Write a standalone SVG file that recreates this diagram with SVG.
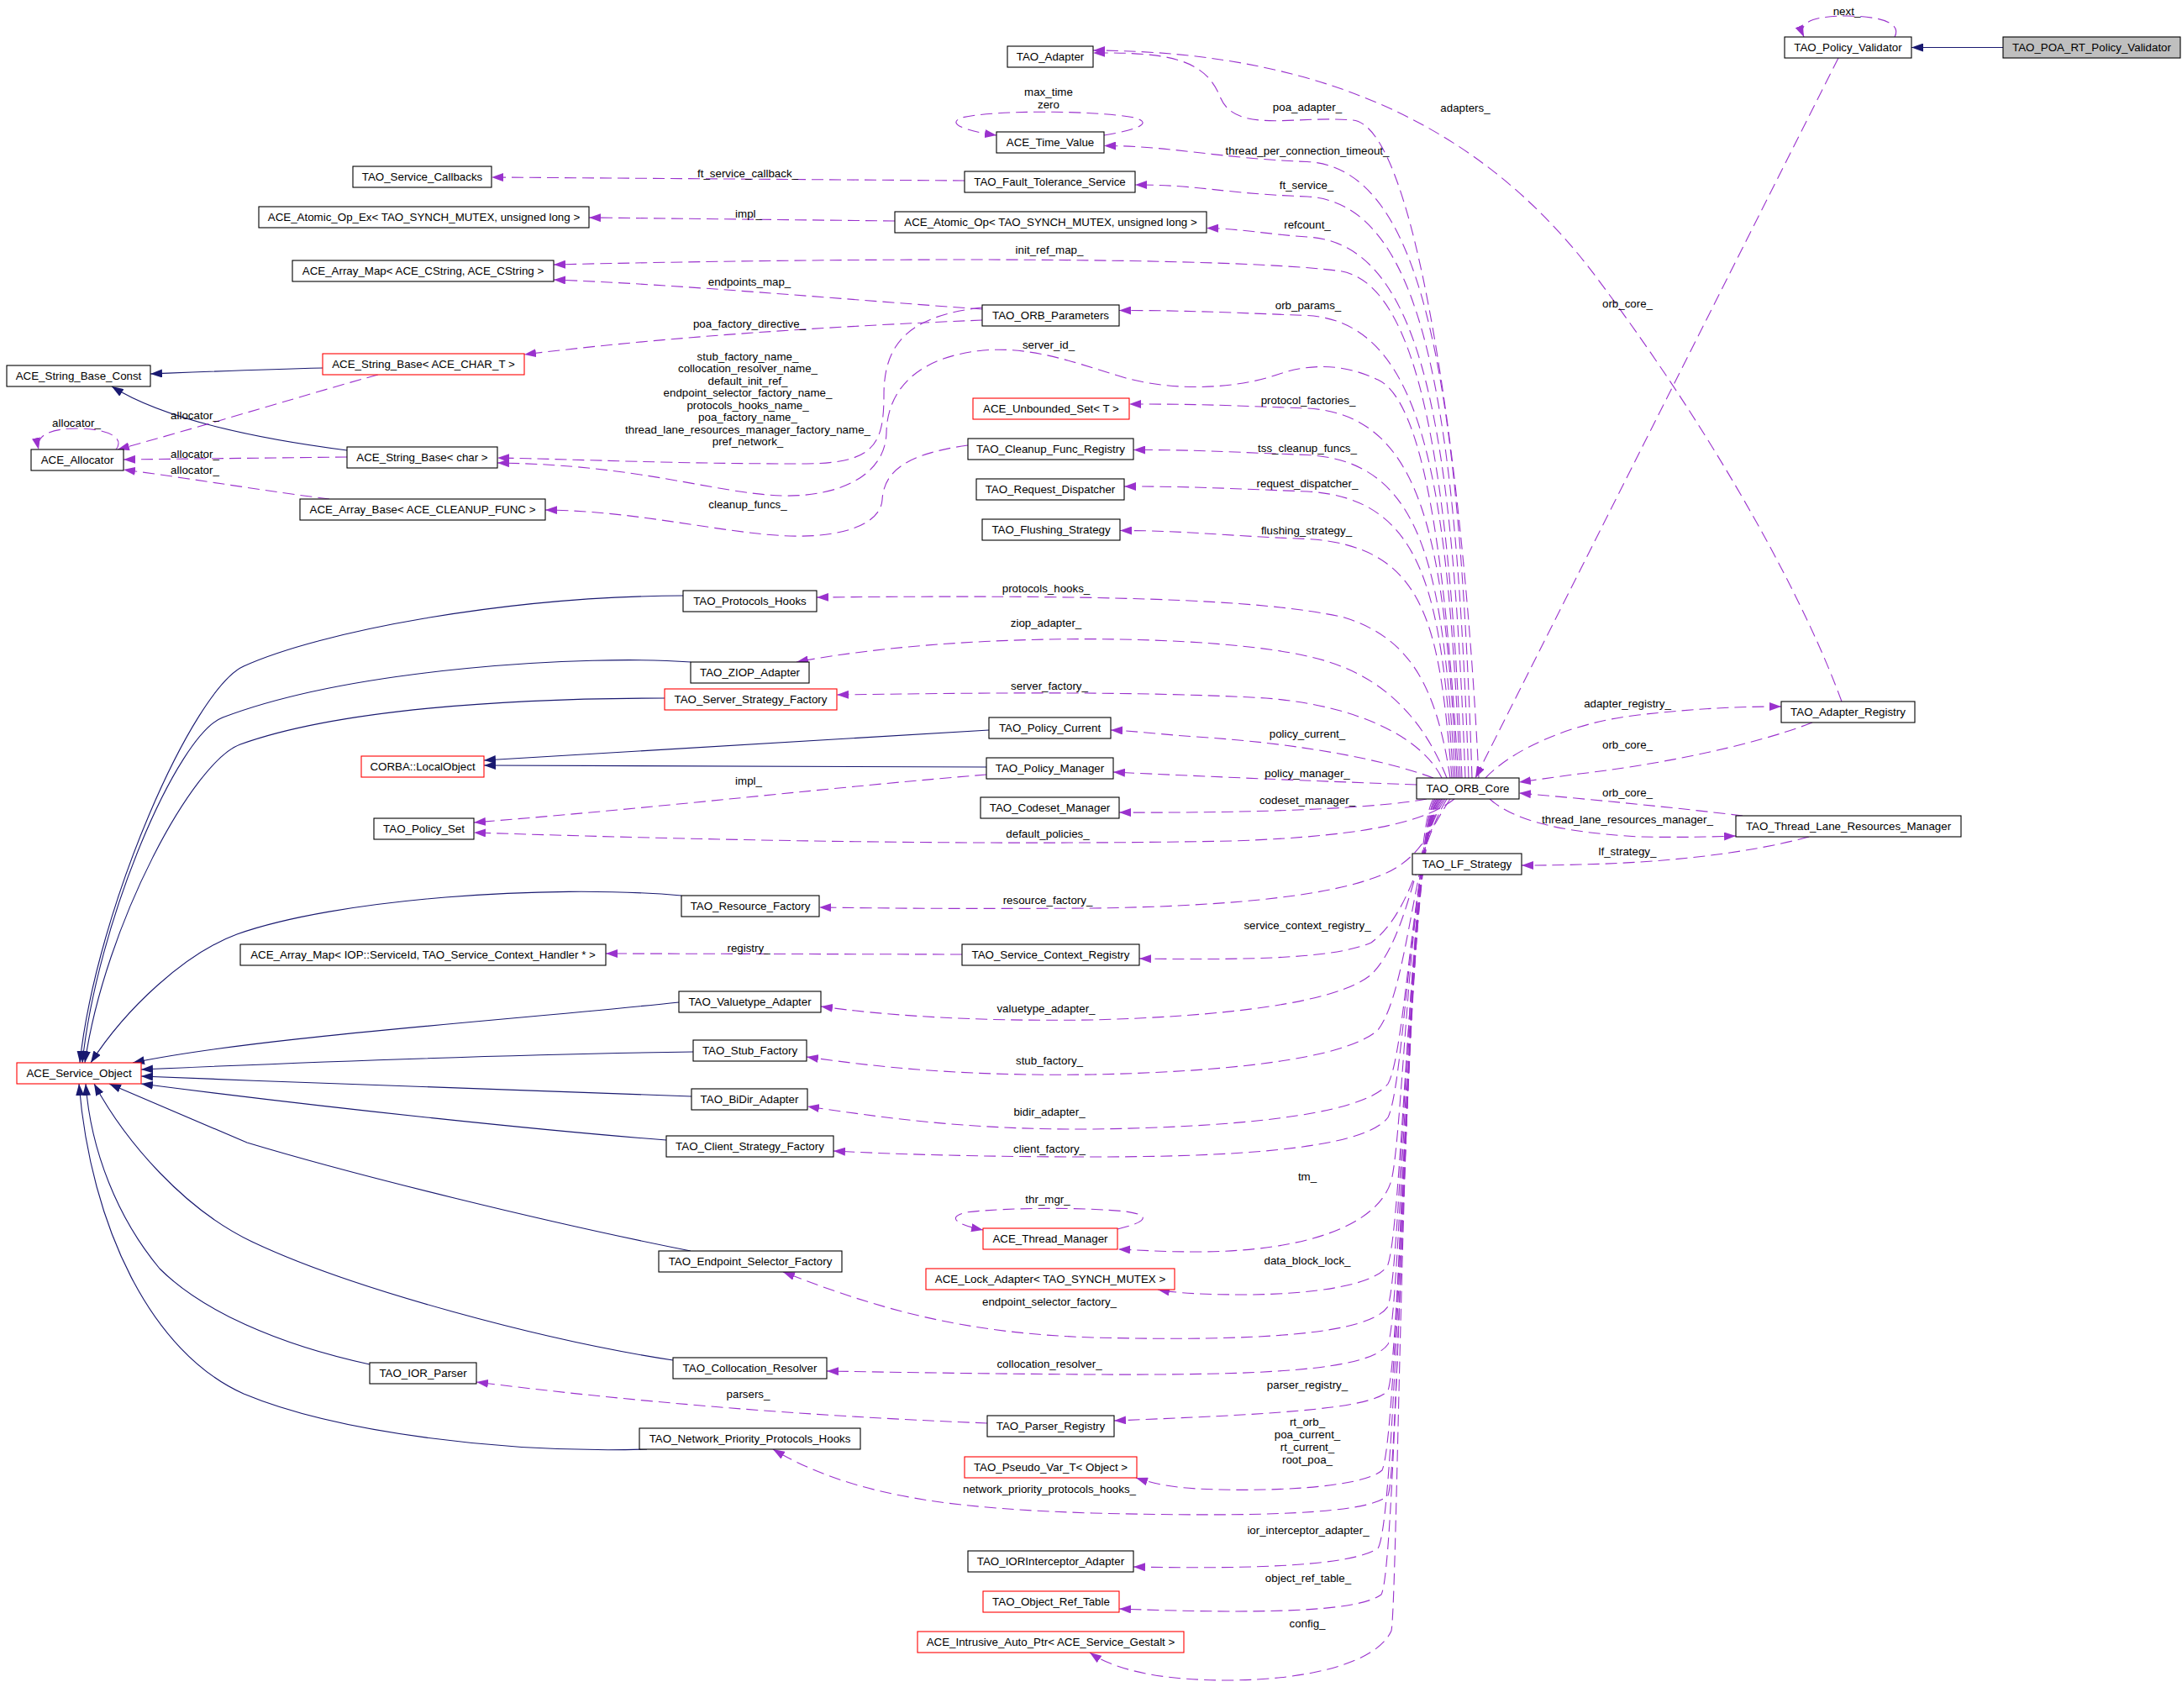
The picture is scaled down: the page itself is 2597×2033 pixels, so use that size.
<svg xmlns="http://www.w3.org/2000/svg" width="2597" height="2033" viewBox="0 0 2597 2033">
<defs>
<style>
text{font-family:"Liberation Sans",Arial,Helvetica,sans-serif;font-size:13.33px;fill:#000}
.node rect{fill:#fff;stroke:#000;stroke-width:1.1}
.node.red rect{stroke:#ff0000}
.node.cur rect{fill:#bfbfbf}
.node text{text-anchor:middle}
.lbl text{text-anchor:middle}
.inh{fill:none;stroke:#191970;stroke-width:1.1;marker-end:url(#ah)}
.use{fill:none;stroke:#9a32cd;stroke-width:1.1;stroke-dasharray:14,7;marker-end:url(#au)}
</style>
<marker id="ah" viewBox="0 0 14 10" refX="14" refY="5" markerWidth="14" markerHeight="10" markerUnits="userSpaceOnUse" orient="auto"><path d="M0,0 L14,5 L0,10 z" fill="#191970" stroke="none"/></marker>
<marker id="au" viewBox="0 0 14 10" refX="14" refY="5" markerWidth="14" markerHeight="10" markerUnits="userSpaceOnUse" orient="auto"><path d="M0,0 L14,5 L0,10 z" fill="#9a32cd" stroke="none"/></marker>
</defs>
<rect x="0" y="0" width="2597" height="2033" fill="#fff"/>
<g id="connectors">
<path class="inh" d="M 2384,56.5 L 2275,56.5"/>
<path class="inh" d="M 384,438 C 300,440 230,443 179,445"/>
<path class="inh" d="M 413,536 C 320,524 200,502 133,460"/>
<path class="inh" d="M 1177,869 C 1000,878 800,890 576,905"/>
<path class="inh" d="M 1174,913 L 576,911"/>
<path class="inh" d="M 813,709 C 600,710 380,752 290,793 C 230,820 115,1080 95,1265"/>
<path class="inh" d="M 822,788 C 700,779 420,795 265,854 C 210,875 115,1100 98,1265"/>
<path class="inh" d="M 791,831 C 600,831 400,845 286,886 C 230,906 125,1100 101,1265"/>
<path class="inh" d="M 811,1066 C 650,1052 400,1070 282,1112 C 220,1135 150,1200 108,1265"/>
<path class="inh" d="M 808,1193 C 600,1215 300,1235 158,1265"/>
<path class="inh" d="M 825,1252 C 600,1255 350,1265 168,1273"/>
<path class="inh" d="M 823,1305 C 650,1300 400,1290 168,1281"/>
<path class="inh" d="M 793,1357 C 650,1346 400,1320 168,1290"/>
<path class="inh" d="M 822,1489 C 650,1455 420,1398 294,1360 L 130,1290"/>
<path class="inh" d="M 801,1619 C 650,1596 420,1535 300,1478 C 220,1440 150,1360 112,1290"/>
<path class="inh" d="M 440,1624 C 330,1600 240,1560 190,1510 C 140,1450 108,1370 102,1290"/>
<path class="inh" d="M 770,1725 C 600,1730 400,1705 290,1659 C 180,1610 108,1460 94,1290"/>

<path class="use" d="M 2255,44 C 2265,25 2230,19 2198,19 C 2165,19 2138,24 2147,44"/>
<path class="use" d="M 2188,69 L 1756,926"/>
<path class="use" d="M 2192,835 C 2150,720 2050,530 1900,330 C 1780,170 1600,61 1301,60"/>
<path class="use" d="M 1760,926 C 1745,600 1690,150 1610,143 C 1540,137 1470,160 1452,115 C 1434,70 1390,62 1301,63"/>
<path class="use" d="M 1314,161 C 1350,155 1375,147 1350,140 C 1300,131 1180,131 1145,140 C 1125,147 1150,156 1186,161"/>
<path class="use" d="M 1752,926 C 1737,475 1700,200 1556,192.5 C 1450,188.5 1394,173.5 1314,173.5"/>
<path class="use" d="M 1748,926 C 1733,502 1700,242 1556,234 C 1450,230 1431,220 1351,220"/>
<path class="use" d="M 1744,926 C 1729,533 1700,290 1556,282 C 1510,279 1475,272 1436,271.5"/>
<path class="use" d="M 1740,926 C 1725,560 1690,330 1590,322 C 1450,305 1000,307 659,315"/>
<path class="use" d="M 1738,926 C 1723,592 1700,384 1556,375.5 C 1450,371.5 1412,369.5 1332,369.5"/>
<path class="use" d="M 1736,926 C 1722,700 1700,480 1640,452 C 1600,433 1560,432 1520,446 C 1470,463 1400,466 1340,450 C 1280,432 1230,412 1170,417 C 1090,425 1056,465 1055,515 C 1054,565 1000,592 930,590 C 850,587 760,553 592,551"/>
<path class="use" d="M 1734,926 C 1719,659 1700,494 1556,486 C 1450,482 1424,481 1344,481"/>
<path class="use" d="M 1732,926 C 1717,692 1700,549 1556,541.5 C 1450,537.5 1429,535.5 1349,535.5"/>
<path class="use" d="M 1730,926 C 1715,718 1700,593 1556,585 C 1450,581 1418,579 1338,579"/>
<path class="use" d="M 1728,926 C 1713,749 1700,650 1556,641.5 C 1450,637.5 1413,631.5 1333,631.5"/>
<path class="use" d="M 1726,926 C 1710,820 1680,760 1600,735 C 1500,712 1300,708 972,711"/>
<path class="use" d="M 1722,926 C 1692,850 1640,800 1560,782 C 1450,755 1150,750 948,788"/>
<path class="use" d="M 1716,926 C 1694,880 1620,840 1507,831 C 1350,822 1150,825 996,827"/>
<path class="use" d="M 1706,926 C 1650,905 1550,885 1424,877 C 1380,874 1350,870 1322,869"/>
<path class="use" d="M 1686,934 C 1600,931 1450,925 1325,919"/>
<path class="use" d="M 1698,951 C 1640,962 1500,968 1332,967"/>

<path class="use" d="M 1148,215 L 585,211"/>
<path class="use" d="M 1065,263 L 701,259"/>
<path class="use" d="M 1169,368 C 1000,356 800,338 659,333"/>
<path class="use" d="M 1169,381 C 1000,388 800,400 624,422"/>
<path class="use" d="M 1169,366 C 1080,376 1052,410 1052,470 C 1052,530 1040,551 960,552 C 800,552 700,547 592,545"/>
<path class="use" d="M 1152,530 C 1080,540 1052,560 1050,595 C 1048,625 1000,640 940,638 C 860,635 760,608 649,607"/>
<path class="use" d="M 138,535 C 150,520 125,510 92,510 C 62,510 42,517 46,535"/>
<path class="use" d="M 450,446 C 380,465 250,505 140,535"/>
<path class="use" d="M 413,544 L 147,547"/>
<path class="use" d="M 392,594 C 320,585 230,570 147,559"/>
<path class="use" d="M 1174,922 C 1000,936 800,960 564,979"/>
<path class="use" d="M 1145,1136 L 721,1135"/>
<path class="use" d="M 1175,1694 C 950,1685 750,1668 567,1645"/>

<path class="use" d="M 1768,926 C 1800,892 1870,860 1950,851 C 2020,843 2070,841 2120,841"/>
<path class="use" d="M 2157,860 C 2080,890 1960,912 1880,921 C 1850,925 1830,928 1808,931"/>
<path class="use" d="M 2074,971 C 2000,962 1900,952 1808,944"/>
<path class="use" d="M 1773,951 C 1800,975 1850,990 1950,996 C 2000,997 2040,996 2066,995"/>
<path class="use" d="M 2153,996 C 2080,1016 1980,1027 1880,1029 C 1850,1030 1830,1030 1811,1030"/>

<path class="use" d="M 1731,951 C 1700,975 1640,995 1466,1001 C 1200,1006 900,1002 564,991"/>
<path class="use" d="M 1726,951 C 1700,990 1690,1028 1632,1046 C 1570,1068 1450,1079 1300,1081 C 1150,1082 1050,1081 975,1080"/>
<path class="use" d="M 1722,951 C 1692,1000 1682,1085 1632,1122 C 1590,1140 1500,1143 1356,1141"/>
<path class="use" d="M 1720,951 C 1686,1000 1678,1115 1632,1160 C 1590,1195 1450,1210 1300,1214 C 1150,1216 1050,1208 977,1198"/>
<path class="use" d="M 1718,951 C 1684,1000 1676,1180 1640,1226 C 1600,1262 1450,1276 1300,1279 C 1150,1281 1050,1271 960,1258"/>
<path class="use" d="M 1716,951 C 1682,1000 1674,1250 1652,1290 C 1620,1330 1450,1342 1300,1344 C 1150,1345 1050,1330 961,1317"/>
<path class="use" d="M 1716,951 C 1680,1000 1672,1290 1652,1330 C 1622,1370 1450,1377 1300,1377 C 1150,1377 1050,1373 992,1370"/>
<path class="use" d="M 1330,1463 C 1360,1456 1375,1447 1340,1442 C 1290,1437 1200,1437 1150,1443 C 1125,1449 1140,1458 1170,1464"/>
<path class="use" d="M 1714,951 C 1678,1000 1670,1350 1656,1405 C 1640,1460 1550,1490 1424,1490 C 1380,1490 1360,1488 1331,1487"/>
<path class="use" d="M 1714,951 C 1678,1000 1670,1450 1652,1505 C 1640,1530 1560,1541 1480,1541 C 1430,1541 1400,1539 1378,1535"/>
<path class="use" d="M 1712,951 C 1676,1000 1669,1500 1652,1555 C 1630,1588 1500,1597 1300,1592 C 1150,1587 1050,1560 932,1514"/>
<path class="use" d="M 1712,951 C 1676,1000 1668,1560 1652,1600 C 1630,1632 1500,1637 1300,1636 C 1150,1635 1050,1633 984,1632"/>
<path class="use" d="M 1712,951 C 1676,1000 1668,1610 1652,1655 C 1635,1678 1500,1684 1326,1691"/>
<path class="use" d="M 1710,951 C 1674,1000 1667,1700 1645,1750 C 1620,1772 1500,1776 1424,1772 C 1390,1770 1370,1765 1352,1759"/>
<path class="use" d="M 1710,951 C 1674,1000 1666,1745 1652,1780 C 1630,1802 1500,1806 1300,1801 C 1150,1796 1020,1785 920,1725"/>
<path class="use" d="M 1708,951 C 1673,1000 1666,1800 1640,1843 C 1610,1863 1500,1868 1349,1865"/>
<path class="use" d="M 1708,951 C 1672,1000 1665,1860 1644,1898 C 1615,1919 1500,1921 1332,1915"/>
<path class="use" d="M 1706,951 C 1670,1000 1664,1900 1656,1941 C 1640,1978 1560,2000 1460,2000 C 1390,2000 1330,1990 1297,1967"/>
</g>
<g id="edge-labels" class="lbl">
<text x="2198" y="18">next_</text>
<text x="1248" y="114">max_time</text>
<text x="1248" y="128.5">zero</text>
<text x="1556" y="131.6">poa_adapter_</text>
<text x="1744" y="132.5">adapters_</text>
<text x="1556" y="183.7">thread_per_connection_timeout_</text>
<text x="890" y="211">ft_service_callback_</text>
<text x="1555" y="225">ft_service_</text>
<text x="891" y="259">impl_</text>
<text x="1556" y="271.7">refcount_</text>
<text x="1249" y="301.6">init_ref_map_</text>
<text x="892" y="340">endpoints_map_</text>
<text x="1937" y="365.8">orb_core_</text>
<text x="1557" y="368.4">orb_params_</text>
<text x="892" y="389.6">poa_factory_directive_</text>
<text x="1248" y="415">server_id_</text>
<text x="890" y="428.5">stub_factory_name_</text>
<text x="890" y="443">collocation_resolver_name_</text>
<text x="890" y="457.5">default_init_ref_</text>
<text x="890" y="472">endpoint_selector_factory_name_</text>
<text x="890" y="486.5">protocols_hooks_name_</text>
<text x="890" y="501">poa_factory_name_</text>
<text x="890" y="515.5">thread_lane_resources_manager_factory_name_</text>
<text x="890" y="530">pref_network_</text>
<text x="1557" y="480.7">protocol_factories_</text>
<text x="91" y="508">allocator_</text>
<text x="232" y="499">allocator_</text>
<text x="232" y="545">allocator_</text>
<text x="232" y="564.4">allocator_</text>
<text x="1556" y="537.5">tss_cleanup_funcs_</text>
<text x="1556" y="579.6">request_dispatcher_</text>
<text x="890" y="604.7">cleanup_funcs_</text>
<text x="1555" y="636.4">flushing_strategy_</text>
<text x="1245" y="705.4">protocols_hooks_</text>
<text x="1245" y="745.7">ziop_adapter_</text>
<text x="1249" y="820.7">server_factory_</text>
<text x="1937" y="841.5">adapter_registry_</text>
<text x="1556" y="877.5">policy_current_</text>
<text x="1937" y="891">orb_core_</text>
<text x="1556" y="924.8">policy_manager_</text>
<text x="891" y="933.5">impl_</text>
<text x="1937" y="947.8">orb_core_</text>
<text x="1556" y="957">codeset_manager_</text>
<text x="1937" y="979.5">thread_lane_resources_manager_</text>
<text x="1247" y="997.2">default_policies_</text>
<text x="1937" y="1017.6">lf_strategy_</text>
<text x="1247" y="1075.7">resource_factory_</text>
<text x="1556" y="1105.6">service_context_registry_</text>
<text x="891" y="1132.5">registry_</text>
<text x="1245" y="1205.4">valuetype_adapter_</text>
<text x="1249" y="1267.4">stub_factory_</text>
<text x="1249" y="1328">bidir_adapter_</text>
<text x="1249" y="1371.5">client_factory_</text>
<text x="1556" y="1405.3">tm_</text>
<text x="1247" y="1432">thr_mgr_</text>
<text x="1556" y="1505">data_block_lock_</text>
<text x="1249" y="1553.6">endpoint_selector_factory_</text>
<text x="1249" y="1627.8">collocation_resolver_</text>
<text x="1556" y="1652.5">parser_registry_</text>
<text x="890.5" y="1664">parsers_</text>
<text x="1556" y="1697">rt_orb_</text>
<text x="1556" y="1712">poa_current_</text>
<text x="1556" y="1727">rt_current_</text>
<text x="1556" y="1742">root_poa_</text>
<text x="1249" y="1776.5">network_priority_protocols_hooks_</text>
<text x="1557" y="1826">ior_interceptor_adapter_</text>
<text x="1557" y="1882.8">object_ref_table_</text>
<text x="1556" y="1937.4">config_</text>
</g>
<g id="n_TAO_POA_RT_Policy_Validator" class="node cur"><rect x="2384" y="44" width="211" height="25"/><text x="2489.5" y="61">TAO_POA_RT_Policy_Validator</text></g>
<g id="n_TAO_Policy_Validator" class="node"><rect x="2124" y="44" width="151" height="25"/><text x="2199.5" y="61">TAO_Policy_Validator</text></g>
<g id="n_TAO_Adapter" class="node"><rect x="1199" y="55" width="102" height="25"/><text x="1250" y="72">TAO_Adapter</text></g>
<g id="n_ACE_Time_Value" class="node"><rect x="1186" y="157" width="128" height="25"/><text x="1250" y="174">ACE_Time_Value</text></g>
<g id="n_TAO_Service_Callbacks" class="node"><rect x="420" y="198" width="165" height="25"/><text x="502.5" y="215">TAO_Service_Callbacks</text></g>
<g id="n_TAO_Fault_Tolerance_Service" class="node"><rect x="1148" y="204" width="203" height="25"/><text x="1249.5" y="221">TAO_Fault_Tolerance_Service</text></g>
<g id="n_ACE_Atomic_Op_Ex" class="node"><rect x="308" y="246" width="393" height="25"/><text x="504.5" y="263">ACE_Atomic_Op_Ex&lt; TAO_SYNCH_MUTEX, unsigned long &gt;</text></g>
<g id="n_ACE_Atomic_Op" class="node"><rect x="1065" y="252" width="371" height="25"/><text x="1250.5" y="269">ACE_Atomic_Op&lt; TAO_SYNCH_MUTEX, unsigned long &gt;</text></g>
<g id="n_ACE_Array_Map_CString" class="node"><rect x="348" y="310" width="311" height="25"/><text x="503.5" y="327">ACE_Array_Map&lt; ACE_CString, ACE_CString &gt;</text></g>
<g id="n_TAO_ORB_Parameters" class="node"><rect x="1169" y="363" width="163" height="25"/><text x="1250.5" y="380">TAO_ORB_Parameters</text></g>
<g id="n_ACE_String_Base_ACE_CHAR_T" class="node red"><rect x="384" y="421" width="240" height="25"/><text x="504" y="438">ACE_String_Base&lt; ACE_CHAR_T &gt;</text></g>
<g id="n_ACE_String_Base_Const" class="node"><rect x="8" y="435" width="171" height="25"/><text x="93.5" y="452">ACE_String_Base_Const</text></g>
<g id="n_ACE_Unbounded_Set" class="node red"><rect x="1158" y="474" width="186" height="25"/><text x="1251" y="491">ACE_Unbounded_Set&lt; T &gt;</text></g>
<g id="n_ACE_String_Base_char" class="node"><rect x="413" y="532" width="179" height="25"/><text x="502.5" y="549">ACE_String_Base&lt; char &gt;</text></g>
<g id="n_ACE_Allocator" class="node"><rect x="37" y="535" width="110" height="25"/><text x="92" y="552">ACE_Allocator</text></g>
<g id="n_TAO_Cleanup_Func_Registry" class="node"><rect x="1152" y="522" width="197" height="25"/><text x="1250.5" y="539">TAO_Cleanup_Func_Registry</text></g>
<g id="n_TAO_Request_Dispatcher" class="node"><rect x="1162" y="570" width="176" height="25"/><text x="1250" y="587">TAO_Request_Dispatcher</text></g>
<g id="n_ACE_Array_Base" class="node"><rect x="357" y="594" width="292" height="25"/><text x="503" y="611">ACE_Array_Base&lt; ACE_CLEANUP_FUNC &gt;</text></g>
<g id="n_TAO_Flushing_Strategy" class="node"><rect x="1169" y="618" width="164" height="25"/><text x="1251" y="635">TAO_Flushing_Strategy</text></g>
<g id="n_TAO_Protocols_Hooks" class="node"><rect x="813" y="703" width="159" height="25"/><text x="892.5" y="720">TAO_Protocols_Hooks</text></g>
<g id="n_TAO_ZIOP_Adapter" class="node"><rect x="822" y="788" width="141" height="25"/><text x="892.5" y="805">TAO_ZIOP_Adapter</text></g>
<g id="n_TAO_Server_Strategy_Factory" class="node red"><rect x="791" y="820" width="205" height="25"/><text x="893.5" y="837">TAO_Server_Strategy_Factory</text></g>
<g id="n_TAO_Adapter_Registry" class="node"><rect x="2120" y="835" width="159" height="25"/><text x="2199.5" y="852">TAO_Adapter_Registry</text></g>
<g id="n_TAO_Policy_Current" class="node"><rect x="1177" y="854" width="145" height="25"/><text x="1249.5" y="871">TAO_Policy_Current</text></g>
<g id="n_CORBA_LocalObject" class="node red"><rect x="430" y="900" width="146" height="25"/><text x="503" y="917">CORBA::LocalObject</text></g>
<g id="n_TAO_Policy_Manager" class="node"><rect x="1174" y="902" width="151" height="25"/><text x="1249.5" y="919">TAO_Policy_Manager</text></g>
<g id="n_TAO_ORB_Core" class="node"><rect x="1686" y="926" width="122" height="25"/><text x="1747" y="943">TAO_ORB_Core</text></g>
<g id="n_TAO_Codeset_Manager" class="node"><rect x="1167" y="949" width="165" height="25"/><text x="1249.5" y="966">TAO_Codeset_Manager</text></g>
<g id="n_TAO_Thread_Lane_Resources_Manager" class="node"><rect x="2066" y="971" width="268" height="25"/><text x="2200" y="988">TAO_Thread_Lane_Resources_Manager</text></g>
<g id="n_TAO_Policy_Set" class="node"><rect x="445" y="974" width="119" height="25"/><text x="504.5" y="991">TAO_Policy_Set</text></g>
<g id="n_TAO_LF_Strategy" class="node"><rect x="1681" y="1016" width="130" height="25"/><text x="1746" y="1033">TAO_LF_Strategy</text></g>
<g id="n_TAO_Resource_Factory" class="node"><rect x="811" y="1066" width="164" height="25"/><text x="893" y="1083">TAO_Resource_Factory</text></g>
<g id="n_ACE_Array_Map_IOP" class="node"><rect x="286" y="1124" width="435" height="25"/><text x="503.5" y="1141">ACE_Array_Map&lt; IOP::ServiceId, TAO_Service_Context_Handler * &gt;</text></g>
<g id="n_TAO_Service_Context_Registry" class="node"><rect x="1145" y="1124" width="211" height="25"/><text x="1250.5" y="1141">TAO_Service_Context_Registry</text></g>
<g id="n_TAO_Valuetype_Adapter" class="node"><rect x="808" y="1180" width="169" height="25"/><text x="892.5" y="1197">TAO_Valuetype_Adapter</text></g>
<g id="n_TAO_Stub_Factory" class="node"><rect x="825" y="1238" width="135" height="25"/><text x="892.5" y="1255">TAO_Stub_Factory</text></g>
<g id="n_ACE_Service_Object" class="node red"><rect x="20" y="1265" width="148" height="25"/><text x="94" y="1282">ACE_Service_Object</text></g>
<g id="n_TAO_BiDir_Adapter" class="node"><rect x="823" y="1296" width="138" height="25"/><text x="892" y="1313">TAO_BiDir_Adapter</text></g>
<g id="n_TAO_Client_Strategy_Factory" class="node"><rect x="793" y="1352" width="199" height="25"/><text x="892.5" y="1369">TAO_Client_Strategy_Factory</text></g>
<g id="n_ACE_Thread_Manager" class="node red"><rect x="1170" y="1462" width="160" height="25"/><text x="1250" y="1479">ACE_Thread_Manager</text></g>
<g id="n_TAO_Endpoint_Selector_Factory" class="node"><rect x="784" y="1489" width="218" height="25"/><text x="893" y="1506">TAO_Endpoint_Selector_Factory</text></g>
<g id="n_ACE_Lock_Adapter" class="node red"><rect x="1102" y="1510" width="296" height="25"/><text x="1250" y="1527">ACE_Lock_Adapter&lt; TAO_SYNCH_MUTEX &gt;</text></g>
<g id="n_TAO_Collocation_Resolver" class="node"><rect x="801" y="1616" width="183" height="25"/><text x="892.5" y="1633">TAO_Collocation_Resolver</text></g>
<g id="n_TAO_IOR_Parser" class="node"><rect x="440" y="1622" width="127" height="25"/><text x="503.5" y="1639">TAO_IOR_Parser</text></g>
<g id="n_TAO_Parser_Registry" class="node"><rect x="1175" y="1685" width="151" height="25"/><text x="1250.5" y="1702">TAO_Parser_Registry</text></g>
<g id="n_TAO_Network_Priority_Protocols_Hooks" class="node"><rect x="761" y="1700" width="263" height="25"/><text x="892.5" y="1717">TAO_Network_Priority_Protocols_Hooks</text></g>
<g id="n_TAO_Pseudo_Var_T" class="node red"><rect x="1148" y="1734" width="205" height="25"/><text x="1250.5" y="1751">TAO_Pseudo_Var_T&lt; Object &gt;</text></g>
<g id="n_TAO_IORInterceptor_Adapter" class="node"><rect x="1152" y="1846" width="197" height="25"/><text x="1250.5" y="1863">TAO_IORInterceptor_Adapter</text></g>
<g id="n_TAO_Object_Ref_Table" class="node red"><rect x="1170" y="1894" width="162" height="25"/><text x="1251" y="1911">TAO_Object_Ref_Table</text></g>
<g id="n_ACE_Intrusive_Auto_Ptr" class="node red"><rect x="1092" y="1942" width="317" height="25"/><text x="1250.5" y="1959">ACE_Intrusive_Auto_Ptr&lt; ACE_Service_Gestalt &gt;</text></g>
</svg>
